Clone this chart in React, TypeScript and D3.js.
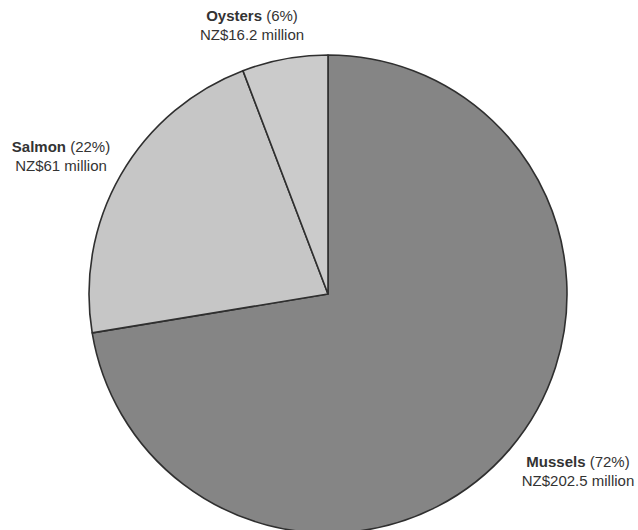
import React from "react";
import * as d3 from "d3";

// Aquaculture export value by species
const species = ["Mussels", "Salmon", "Oysters"];
const valuesMillion = [202.5, 61, 16.2];
const percentLabels = ["72%", "22%", "6%"];
const valueLabels = ["NZ$202.5 million", "NZ$61 million", "NZ$16.2 million"];

const WIDTH = 638;
const HEIGHT = 530;
const CX = 328;
const CY = 294;
const RADIUS = 239;

const fills: Record<string, string> = {
  Mussels: "#858585",
  Salmon: "#c6c6c6",
  Oysters: "#cbcbcb",
};

// label block centres (first line baseline)
const labelAnchors: Record<string, [number, number]> = {
  Mussels: [578, 467],
  Salmon: [61, 152],
  Oysters: [252, 21],
};

export default function App() {
  const data = species.map((s, i) => ({ name: s, value: valuesMillion[i], pct: percentLabels[i], label: valueLabels[i] }));
  const pie = d3
    .pie<(typeof data)[number]>()
    .sort(null)
    .value((d) => d.value)
    .startAngle(0)
    .endAngle(2 * Math.PI);
  const arcs = pie(data);
  const arc = d3.arc<d3.PieArcDatum<(typeof data)[number]>>().innerRadius(0).outerRadius(RADIUS);

  return (
    <svg
      width={WIDTH}
      height={HEIGHT}
      style={{ position: "absolute", left: 0, top: 0, background: "#fff" }}
      fontFamily="'Liberation Sans', Arial, sans-serif"
    >
      <g transform={`translate(${CX},${CY})`}>
        {arcs.map((a) => (
          <path
            key={a.data.name}
            d={arc(a) || ""}
            fill={fills[a.data.name]}
            stroke="#2f2f2f"
            strokeWidth={1.6}
            strokeLinejoin="round"
          />
        ))}
      </g>
      {data.map((d) => {
        const [x, y] = labelAnchors[d.name];
        return (
          <g key={d.name} fill="#333" fontSize={15} textAnchor="middle">
            <text x={x} y={y}>
              <tspan fontWeight="bold">{d.name}</tspan>
              <tspan> ({d.pct})</tspan>
            </text>
            <text x={x} y={y + 19}>
              {d.label}
            </text>
          </g>
        );
      })}
    </svg>
  );
}
